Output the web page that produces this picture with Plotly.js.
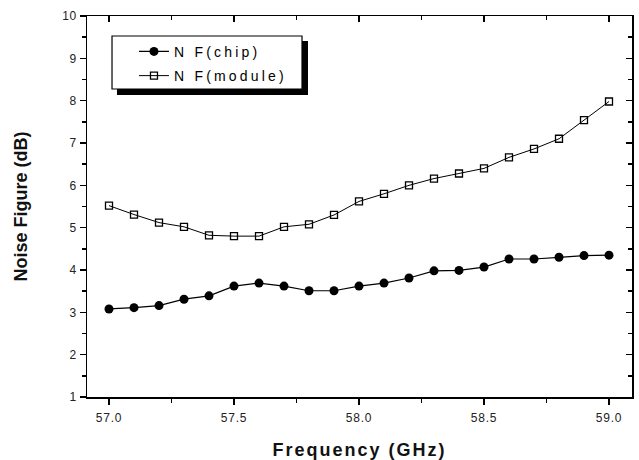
<!DOCTYPE html>
<html>
<head>
<meta charset="utf-8">
<script src="https://cdn.plot.ly/plotly-3.0.1.min.js"></script>
<style>
html,body{margin:0;padding:0;background:#fff;}
#chart{width:639px;height:460px;}
.legendtext{letter-spacing:3.2px;}
.xtitle{letter-spacing:2px;}
.xtick text,.ytick text{letter-spacing:0.8px;}
</style>
</head>
<body>
<div id="chart"></div>
<script>
const freq = [57.0,57.1,57.2,57.3,57.4,57.5,57.6,57.7,57.8,57.9,58.0,58.1,58.2,58.3,58.4,58.5,58.6,58.7,58.8,58.9,59.0];
const nfChip = [3.08,3.11,3.16,3.31,3.39,3.62,3.69,3.62,3.51,3.51,3.62,3.69,3.81,3.98,3.99,4.07,4.26,4.26,4.30,4.34,4.35];
const nfModule = [5.52,5.31,5.12,5.02,4.82,4.80,4.80,5.02,5.08,5.30,5.62,5.80,6.00,6.16,6.28,6.40,6.66,6.86,7.10,7.54,7.98];
const seriesNames = ["N F(chip)", "N F(module)"];
const xTitle = "Frequency (GHz)";
const yTitle = "Noise Figure (dB)";

const tickFont = {family: "Liberation Sans, Arial, sans-serif", size: 12, color: "#222"};
const titleFont = {family: "Liberation Sans, Arial, sans-serif", size: 18, color: "#111", weight: "bold"};

const traces = [
  {x: freq, y: nfChip, name: seriesNames[0], legendgroup: "a", type: "scatter", mode: "lines+markers",
   line: {color: "#000", width: 1.2},
   marker: {symbol: "circle", size: 9, color: "#000"}},
  {x: freq, y: nfModule, name: seriesNames[1], legendgroup: "b", type: "scatter", mode: "lines+markers",
   line: {color: "#000", width: 1},
   marker: {symbol: "square-open", size: 7, color: "#000", line: {width: 1.3}}},
  {x: [], y: [], xaxis: "x2", yaxis: "y2", showlegend: false, hoverinfo: "skip"}
];

const layout = {
  width: 639, height: 460,
  margin: {l: 87, r: 7, t: 16, b: 63},
  paper_bgcolor: "#fff", plot_bgcolor: "#fff",
  showlegend: true,
  legend: {x: 0.0862, y: 0.948, xanchor: "left", yanchor: "top",
    bgcolor: "rgba(0,0,0,0)", borderwidth: 0,
    font: {family: "Liberation Sans, Arial, sans-serif", size: 14, color: "#000"},
    tracegroupgap: 3},
  xaxis: {range: [56.912, 59.092], tick0: 57, dtick: 0.5, tickformat: ".1f",
    showline: true, linecolor: "#000", linewidth: 1.5, mirror: false,
    ticks: "outside", ticklen: 6, tickwidth: 1.5, tickcolor: "#000",
    ticklabelstandoff: 3,
    showgrid: false, zeroline: false, tickfont: tickFont,
    minor: {dtick: 0.25, ticks: "outside", ticklen: 4, tickwidth: 1.5, tickcolor: "#000", showgrid: false},
    title: {text: xTitle, font: titleFont, standoff: 20}},
  yaxis: {range: [1, 10], tick0: 1, dtick: 1,
    showline: true, linecolor: "#000", linewidth: 1.5,
    ticks: "outside", ticklen: 6, tickwidth: 1.5, tickcolor: "#000",
    showgrid: false, zeroline: false, tickfont: tickFont,
    minor: {dtick: 0.5, ticks: "outside", ticklen: 4, tickwidth: 1.5, tickcolor: "#000", showgrid: false},
    title: {text: yTitle, font: titleFont, standoff: 30}},
  xaxis2: {overlaying: "x", side: "top", range: [56.912, 59.092], tick0: 57, dtick: 0.5,
    showline: true, linecolor: "#000", linewidth: 1.5,
    ticks: "inside", ticklen: 6, tickwidth: 1.5, tickcolor: "#000",
    showticklabels: false, showgrid: false, zeroline: false,
    minor: {dtick: 0.25, ticks: "inside", ticklen: 4, tickwidth: 1.5, tickcolor: "#000", showgrid: false}},
  yaxis2: {overlaying: "y", side: "right", range: [1, 10], tick0: 1, dtick: 1,
    showline: true, linecolor: "#000", linewidth: 1.5,
    ticks: "inside", ticklen: 6, tickwidth: 1.5, tickcolor: "#000",
    showticklabels: false, showgrid: false, zeroline: false,
    minor: {dtick: 0.5, ticks: "inside", ticklen: 4, tickwidth: 1.5, tickcolor: "#000", showgrid: false}},
  shapes: [
    {type: "rect", xref: "paper", yref: "paper", x0: 0.055, x1: 0.4055, y0: 0.7927, y1: 0.9344,
     fillcolor: "#000", line: {width: 0}, layer: "above"},
    {type: "rect", xref: "paper", yref: "paper", x0: 0.0459, x1: 0.3945, y0: 0.8084, y1: 0.9475,
     fillcolor: "#fff", line: {color: "#000", width: 1.2}, layer: "above"}
  ]
};

Plotly.newPlot("chart", traces, layout, {displayModeBar: false, staticPlot: true});
</script>
</body>
</html>
